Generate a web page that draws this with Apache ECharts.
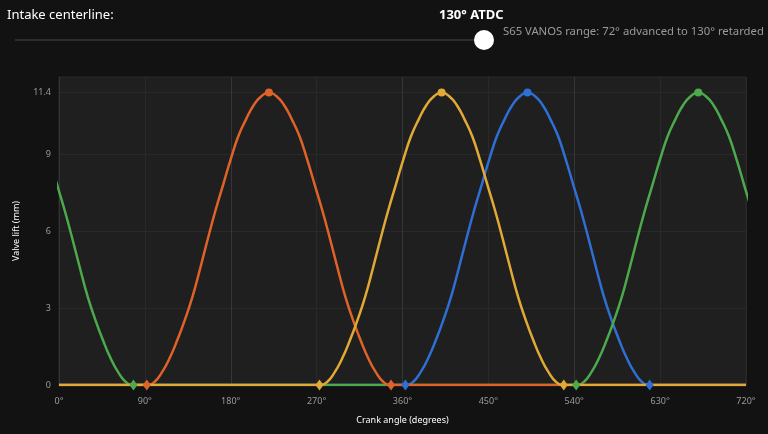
<!DOCTYPE html>
<html>
<head>
<meta charset="utf-8">
<script src="https://cdn.jsdelivr.net/npm/echarts@6/dist/echarts.min.js"></script>
<style>
html, body { margin: 0; padding: 0; background: #121212; width: 768px; height: 434px; overflow: hidden; font-family: 'Noto Sans', sans-serif; }
#main { position: absolute; left: 0; top: 0; width: 768px; height: 434px; }
.hdr { position: absolute; color: #fff; white-space: nowrap; line-height: 1; }
</style>
</head>
<body>
<div id="main"></div>
<div class="hdr" style="left:7px;top:8px;font-size:13px;">Intake centerline:</div>
<div class="hdr" style="left:439px;top:8px;font-size:13px;font-weight:bold;">130° ATDC</div>
<div style="position:absolute;left:15px;top:39px;width:465px;height:2px;background:#2c2c2c"></div>
<div style="position:absolute;left:474px;top:30px;width:20px;height:20px;border-radius:50%;background:#fff"></div>
<div class="hdr" style="left:503px;top:25px;font-size:11.3px;color:#9a9a9a;">S65 VANOS range: 72° advanced to 130° retarded</div>
<script>
var chartDom = document.getElementById('main');
var myChart = echarts.init(chartDom);
var option;

// lift profile, degrees after opening -> lift in mm
var profileOffsets = [0, 8, 16, 24, 32, 40, 48, 56, 64, 72, 80, 88, 96, 104, 112, 120, 128,
    136, 144, 152, 160, 168, 176, 184, 192, 200, 208, 216, 224, 232, 240, 248, 256];
var profileLift = [0, 0.12, 0.5, 1.05, 1.75, 2.55, 3.45, 4.55, 5.7, 6.8, 7.8, 8.8, 9.7, 10.35, 10.9, 11.25, 11.4,
    11.25, 10.9, 10.35, 9.7, 8.8, 7.8, 6.8, 5.7, 4.55, 3.45, 2.55, 1.75, 1.05, 0.5, 0.12, 0];

// drawing order: first is at the bottom
var valveNames = ['Cyl 1 intake', 'Cyl 2 intake', 'Cyl 1 exhaust', 'Cyl 2 exhaust'];
var valveOpen = [363, 542, 92, 273];
var valveColors = ['#2f6fd3', '#4caa4c', '#df6329', '#e1a935'];

var xTicks = [0, 90, 180, 270, 360, 450, 540, 630, 720];
var yTicks = [0, 3, 6, 9, 11.4];
var strongLines = [180, 360, 540];

function buildData(open) {
    var pts = [];
    var last = profileOffsets.length - 1;
    var peak = profileLift.indexOf(Math.max.apply(null, profileLift));
    var wraps = open + profileOffsets[last] > 720;
    var shifts = wraps ? [-720, 0] : [0];
    if (!wraps) pts.push([0, 0]);
    shifts.forEach(function (shift) {
        profileOffsets.forEach(function (t, i) {
            var item = { value: [open + shift + t, profileLift[i]] };
            if (i === 0 || i === last) {
                item.symbol = 'diamond';
                item.symbolSize = [8, 11];
            } else if (i === peak) {
                item.symbol = 'circle';
                item.symbolSize = 8;
            }
            pts.push(item);
        });
    });
    if (!wraps) pts.push([720, 0]);
    return pts;
}

var seriesList = [];
valveNames.forEach(function (name, k) {
    seriesList.push({
        name: name,
        type: 'line',
        data: buildData(valveOpen[k]),
        smooth: 0.5,
        symbol: 'none',
        clip: true,
        color: valveColors[k],
        lineStyle: { width: 2.5, color: valveColors[k] },
        itemStyle: { color: valveColors[k] },
        emphasis: { disabled: true },
        markLine: k === 0 ? {
            silent: true,
            symbol: 'none',
            label: { show: false },
            lineStyle: { color: '#363636', width: 1, type: 'solid' },
            data: strongLines.map(function (v) { return { xAxis: v }; }),
            z: 0
        } : undefined
    });
});

option = {
    backgroundColor: 'transparent',
    animation: false,
    textStyle: { fontFamily: 'Noto Sans' },
    grid: {
        left: 59, right: 22, top: 77, bottom: 49,
        show: true,
        backgroundColor: '#1f1f1f',
        borderColor: '#2a2a2a',
        borderWidth: 1
    },
    xAxis: {
        type: 'value',
        min: 0, max: 720, interval: 90,
        name: 'Crank angle (degrees)',
        nameLocation: 'middle',
        nameGap: 31,
        nameTextStyle: { color: '#fff', fontSize: 9 },
        axisLine: { show: true, lineStyle: { color: '#333' } },
        axisTick: { show: false },
        axisLabel: { color: '#9a9a9a', fontSize: 9, margin: 12, formatter: '{value}°', customValues: xTicks },
        splitLine: { show: true, lineStyle: { color: '#292929' } }
    },
    yAxis: {
        type: 'value',
        min: 0, max: 12, interval: 3,
        name: 'Valve lift (mm)',
        nameLocation: 'middle',
        nameGap: 38,
        nameTextStyle: { color: '#fff', fontSize: 9 },
        axisLine: { show: true, lineStyle: { color: '#333' } },
        axisTick: { show: false, customValues: yTicks },
        axisLabel: { color: '#9a9a9a', fontSize: 9, margin: 8, customValues: yTicks },
        splitLine: { show: true, lineStyle: { color: '#292929' } }
    },
    series: seriesList
};

option && myChart.setOption(option);
</script>
</body>
</html>
